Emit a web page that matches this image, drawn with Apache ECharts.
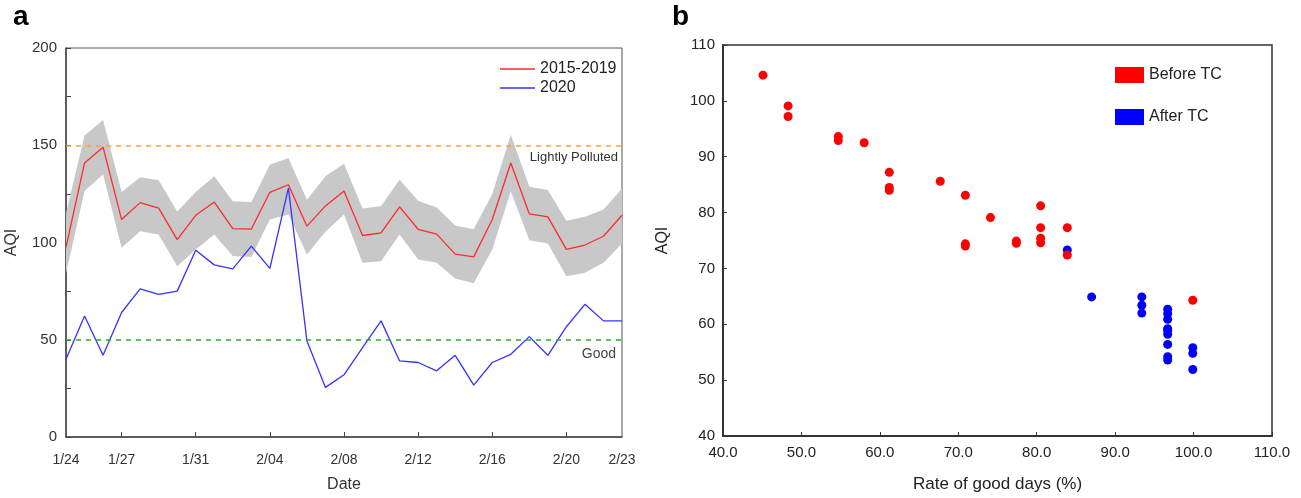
<!DOCTYPE html>
<html>
<head>
<meta charset="utf-8">
<script src="https://cdn.jsdelivr.net/npm/echarts@6/dist/echarts.min.js"></script>
<style>
  html, body { margin: 0; padding: 0; background: #fff; }
  #main { width: 1301px; height: 498px; }
</style>
</head>
<body>
<div id="main"></div>
<script>
// panel a: daily AQI, 1/24 - 2/23
var dates = ['1/24','1/25','1/26','1/27','1/28','1/29','1/30','1/31',
  '2/01','2/02','2/03','2/04','2/05','2/06','2/07','2/08','2/09','2/10','2/11',
  '2/12','2/13','2/14','2/15','2/16','2/17','2/18','2/19','2/20','2/21','2/22','2/23'];
var mean1519 = [97.5,140.9,149,111.8,120.5,117.7,101.5,114,120.8,107.1,106.9,125.8,129.7,108.4,118.8,126.5,
  103.6,105,118.3,106.8,104.3,94,92.6,111.8,140.9,114.7,113.2,96.5,98.7,103.2,114];
var upper1519 = [115,155,163,126,133.5,132,116,126,134,121.2,120.8,140,143.4,122,134,140.5,
  117.5,118.8,132.3,121.5,118,108.8,106.8,125,155.4,128.7,127,111.2,113.3,117,127.6];
var lower1519 = [84,126.5,135,97.3,105.8,104.1,87.8,96.4,104.1,93,92.5,111.8,114.4,93.8,105.5,114.4,
  89.6,90.4,104.1,91.3,89.6,81.5,79,96.4,126.3,101.1,99.5,82.7,84.5,89.6,99.5];
var aqi2020 = [40,62.2,42,64,76.2,73.3,75,96,88.5,86.4,98.1,86.7,128,49.4,25.5,32,
  46,59.7,39.1,38.3,34,42,26.7,38.3,42.5,51.6,42,56.7,68.2,59.7,59.7];
var labelIdx = [0,3,7,11,15,19,23,27,30];
var tickIdx = [3,7,11,15,19,23,27];

// panel b: rate of good days (%) vs AQI
var beforeTC = [[45.1,104.6],[48.3,99.1],[48.3,97.2],[54.7,93.6],[54.7,92.9],[58.0,92.5],
  [61.2,87.2],[61.2,84.5],[61.2,84.0],[67.7,85.6],[70.9,83.1],[70.9,74.4],[70.9,74.0],
  [74.1,79.1],[77.4,74.9],[77.4,74.5],[80.5,81.2],[80.5,77.3],[80.5,75.4],[80.5,74.6],
  [83.9,77.3],[83.9,72.4],[99.9,64.3]];
var afterTC = [[83.9,73.3],[87.0,64.9],[93.4,64.9],[93.4,63.4],[93.4,62.0],
  [96.7,62.7],[96.7,61.9],[96.7,60.9],[96.7,59.2],[96.7,58.9],[96.7,58.2],[96.7,56.4],
  [96.7,54.2],[96.7,53.6],[99.9,55.8],[99.9,54.8],[99.9,51.9]];

var bandHeight = upper1519.map(function (v, i) { return +(v - lower1519[i]).toFixed(1); });

var font = '"Liberation Sans", Arial, sans-serif';
var chart = echarts.init(document.getElementById('main'));

var option = {
  animation: false,
  backgroundColor: '#fff',
  textStyle: { fontFamily: font },
  title: [
    { text: 'a', left: 13, top: 3, padding: 0, textStyle: { fontSize: 28, fontWeight: 'bold', color: '#000', fontFamily: font } },
    { text: 'b', left: 672, top: 3, padding: 0, textStyle: { fontSize: 28, fontWeight: 'bold', color: '#000', fontFamily: font } }
  ],
  legend: [
    {
      data: ['2015-2019', '2020'],
      orient: 'vertical', left: 500, top: 61, padding: 0,
      icon: 'rect', itemWidth: 35, itemHeight: 1.5, itemGap: 3,
      textStyle: { fontSize: 16, color: '#222', fontFamily: font }
    },
    {
      data: ['Before TC', 'After TC'],
      orient: 'vertical', left: 1115, top: 67, padding: 0,
      icon: 'rect', itemWidth: 29, itemHeight: 16, itemGap: 26,
      textStyle: { fontSize: 16, color: '#222', fontFamily: font }
    }
  ],
  grid: [
    { left: 66, top: 48, width: 556, height: 390, show: true, borderColor: '#555', borderWidth: 1, backgroundColor: '#fff' },
    { left: 723, top: 45, width: 549, height: 391, show: true, borderColor: '#333', borderWidth: 1.5, backgroundColor: '#fff' }
  ],
  xAxis: [
    {
      gridIndex: 0, type: 'category', data: dates, boundaryGap: false,
      name: 'Date', nameLocation: 'middle', nameGap: 40,
      nameTextStyle: { fontSize: 16, color: '#333' },
      axisLine: { lineStyle: { color: '#444', width: 1.5 } },
      axisTick: { inside: true, length: 5, lineStyle: { color: '#444' },
        interval: function (i) { return tickIdx.indexOf(i) >= 0; } },
      axisLabel: { fontSize: 14, color: '#333', margin: 16,
        interval: function (i) { return labelIdx.indexOf(i) >= 0; } },
      splitLine: { show: false }
    },
    {
      gridIndex: 1, type: 'value', min: 40, max: 110, interval: 10,
      name: 'Rate of good days (%)', nameLocation: 'middle', nameGap: 40,
      nameTextStyle: { fontSize: 17, color: '#222' },
      axisLine: { lineStyle: { color: '#333', width: 2 } },
      axisTick: { inside: true, length: 4, lineStyle: { color: '#333' } },
      axisLabel: { fontSize: 15, color: '#222', margin: 9,
        formatter: function (v) { return v.toFixed(1); } },
      splitLine: { show: false }
    }
  ],
  yAxis: [
    {
      gridIndex: 0, type: 'value', min: 0, max: 200, interval: 25,
      name: 'AQI', nameLocation: 'middle', nameGap: 46,
      nameTextStyle: { fontSize: 16, color: '#333' },
      axisLine: { show: true, lineStyle: { color: '#444', width: 1.5 } },
      axisTick: { show: true, inside: true, length: 5, lineStyle: { color: '#444' } },
      axisLabel: { fontSize: 15, color: '#333', margin: 9,
        formatter: function (v) { return v % 50 === 0 ? v : ''; } },
      splitLine: { show: false }
    },
    {
      gridIndex: 1, type: 'value', min: 40, max: 110, interval: 10,
      name: 'AQI', nameLocation: 'middle', nameGap: 52,
      nameTextStyle: { fontSize: 16, color: '#222' },
      axisLine: { show: true, lineStyle: { color: '#333', width: 2 } },
      axisTick: { show: true, inside: true, length: 4, lineStyle: { color: '#333' } },
      axisLabel: { fontSize: 15, color: '#222', margin: 8 },
      splitLine: { show: false }
    }
  ],
  series: [
    // grey range band (lower edge + thickness, stacked)
    {
      name: 'lower', type: 'line', xAxisIndex: 0, yAxisIndex: 0,
      data: lower1519, stack: 'band', symbol: 'none', silent: true,
      lineStyle: { opacity: 0 }
    },
    {
      name: 'band', type: 'line', xAxisIndex: 0, yAxisIndex: 0,
      data: bandHeight, stack: 'band', symbol: 'none', silent: true,
      lineStyle: { opacity: 0 },
      areaStyle: { color: '#c8c8c8', opacity: 1 }
    },
    {
      name: '2015-2019', type: 'line', xAxisIndex: 0, yAxisIndex: 0,
      data: mean1519, symbol: 'none', color: '#ff2a2a',
      lineStyle: { color: '#ff2a2a', width: 1.3 }
    },
    {
      name: '2020', type: 'line', xAxisIndex: 0, yAxisIndex: 0,
      data: aqi2020, symbol: 'none', color: '#3333ff',
      lineStyle: { color: '#3333ff', width: 1.3 },
      markLine: {
        silent: true, symbol: 'none',
        data: [
          { yAxis: 150, lineStyle: { color: '#ffa033', type: [5, 5], width: 1.5 },
            label: { show: true, position: 'insideEndBottom', formatter: 'Lightly Polluted',
              fontSize: 13, color: '#333', distance: [4, 6] } },
          { yAxis: 50, lineStyle: { color: '#2eaa2e', type: [5, 5], width: 1.5 },
            label: { show: true, position: 'insideEndBottom', formatter: 'Good',
              fontSize: 14, color: '#444', distance: [6, 7] } }
        ]
      }
    },
    {
      name: 'After TC', type: 'scatter', xAxisIndex: 1, yAxisIndex: 1,
      data: afterTC, symbolSize: 9, color: '#0000ff', z: 2,
      itemStyle: { color: '#0000ff', opacity: 1 }
    },
    {
      name: 'Before TC', type: 'scatter', xAxisIndex: 1, yAxisIndex: 1,
      data: beforeTC, symbolSize: 9, color: '#ff0000', z: 3,
      itemStyle: { color: '#ff0000', opacity: 1 }
    }
  ]
};
chart.setOption(option);
</script>
</body>
</html>
